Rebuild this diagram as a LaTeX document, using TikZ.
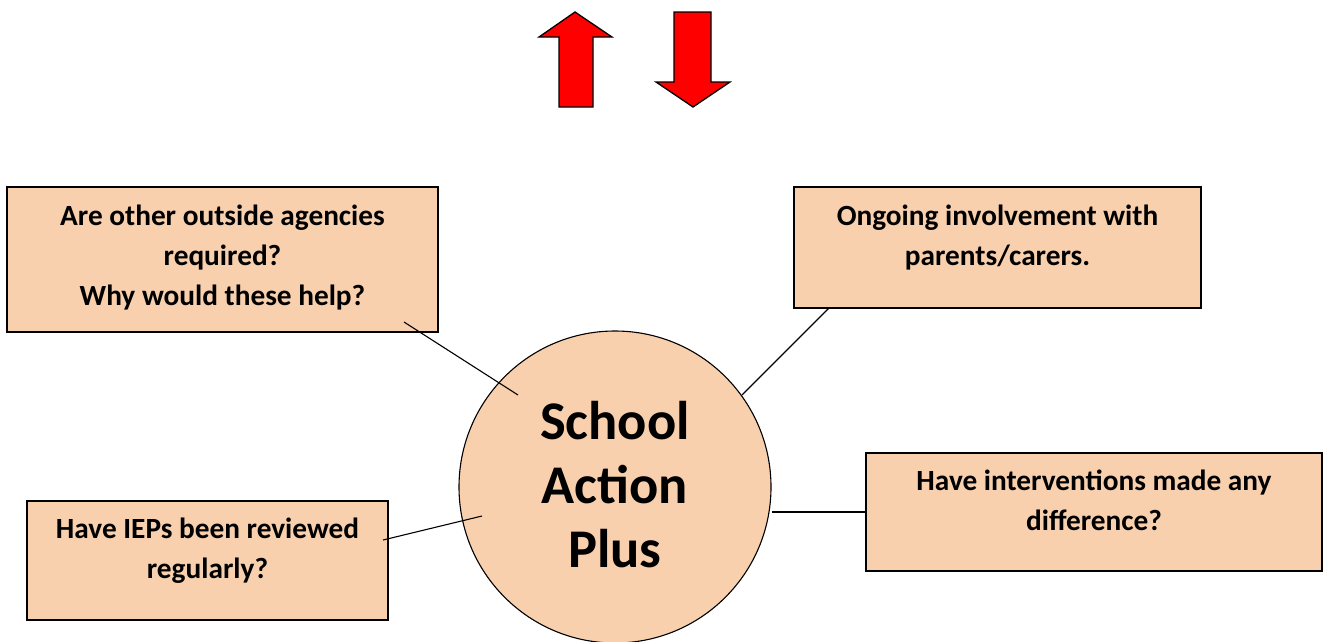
\documentclass[tikz,border=0pt]{standalone}
\usepackage{fontspec}
\setmainfont{Carlito}
\definecolor{peach}{HTML}{F8D0AE}
\definecolor{arrowred}{HTML}{FF0000}
\tikzset{
  infobox/.style={draw=black, line width=1.3pt, fill=peach, rectangle, align=center,
    inner sep=0pt, font=\bfseries\fontsize{29.3}{40}\selectfont},
  hub/.style={draw=black, line width=1.1pt, fill=peach, circle, align=center,
    inner sep=0pt, minimum size=312pt, font=\bfseries\fontsize{54.5}{64}\selectfont},
  link/.style={draw=black, line width=1.1pt},
  bigarrow/.style={draw=black, line width=1.3pt, fill=arrowred, line join=miter}
}
\begin{document}
\begin{tikzpicture}[x=1pt,y=-1pt]
\useasboundingbox (0,0) rectangle (1327,641);
% arrows
\draw[bigarrow] (575,12) -- (612,37) -- (593,37) -- (593,107) -- (559,107) -- (559,37) -- (539,37) -- cycle;
\draw[bigarrow] (674,12) -- (711,12) -- (711,82) -- (730,82) -- (693,107) -- (656,82) -- (674,82) -- cycle;
% circle
\node[hub, text depth=5pt] (circ) at (615,487) {School\\Action\\Plus};
% boxes
\node[infobox, minimum width=431pt, minimum height=145pt, text depth=8pt] (box1) at (222.5,259.5)
  {Are other outside agencies\\required?\\Why would these help?};
\node[infobox, minimum width=407pt, minimum height=121pt, text depth=24pt] (box2) at (997.5,247.5)
  {Ongoing involvement with\\parents/carers.};
\node[infobox, minimum width=456pt, minimum height=118pt, text depth=24pt] (box5) at (1094,512)
  {Have interventions made any\\difference?};
\node[infobox, minimum width=361pt, minimum height=119pt, text depth=24pt] (box6) at (207.5,560.5)
  {Have IEPs been reviewed\\regularly?};
% connector end points
\coordinate (l1a) at (404,322);
\coordinate (l1b) at (518,395);
\coordinate (l2a) at (829,308);
\coordinate (l2b) at (742,395);
\coordinate (l6a) at (383,540);
\coordinate (l6b) at (482,516);
\draw[link] (l1a) -- (l1b);
\draw[link] (l2a) -- (l2b);
\draw[link] (box5.west) -- (box5.west -| circ.east);
\draw[link] (l6a) -- (l6b);
\end{tikzpicture}
\end{document}
